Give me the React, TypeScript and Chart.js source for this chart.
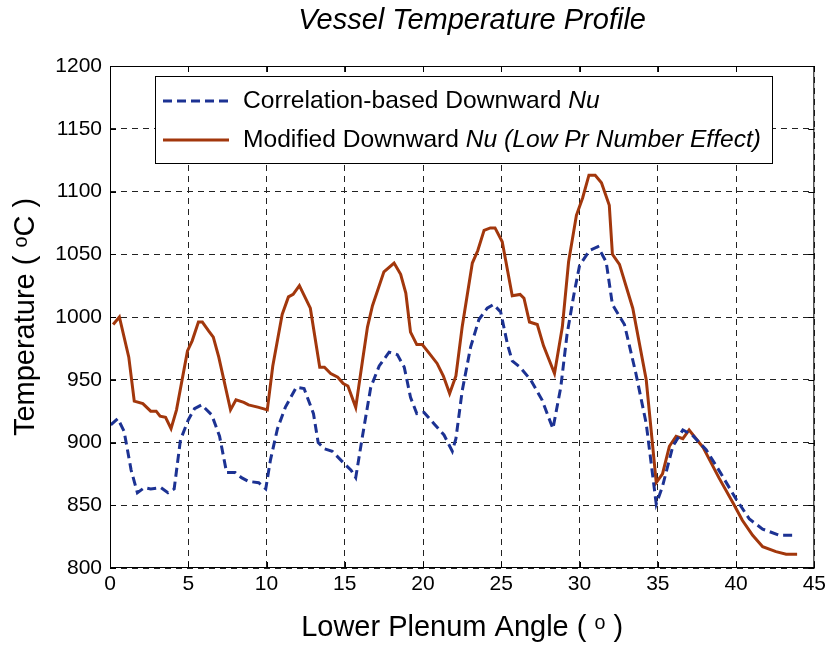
import React, { useEffect, useRef } from "react";
import { Chart, registerables } from "chart.js";

Chart.register(...registerables);

const FONT = "'Liberation Sans', Arial, Helvetica, sans-serif";

const titleText = "Vessel Temperature Profile";
const xTitle = "Lower Plenum Angle ( ᵒ )";
const yTitle = "Temperature ( ᵒC )";

const xTicks = [0, 5, 10, 15, 20, 25, 30, 35, 40, 45];
const yTicks = [800, 850, 900, 950, 1000, 1050, 1100, 1150, 1200];

const corrLabel = "Correlation-based Downward Nu";
const modLabel = "Modified Downward Nu (Low Pr Number Effect)";

const corrX = [0.05, 0.5, 0.9, 1.35, 1.75, 2.2, 2.6, 3.25, 3.7, 4.1, 4.5, 5.0, 5.4, 5.85, 6.5, 7.0, 7.45, 8.0, 8.4, 8.85, 9.5, 9.95, 10.25, 10.7, 11.2, 11.9, 12.4, 13.0, 13.3, 13.7, 14.2, 14.9, 15.4, 15.7, 16.13, 16.66, 17.2, 17.83, 18.36, 18.8, 19.2, 19.6, 20.06, 20.7, 21.34, 21.87, 22.1, 22.5, 23.04, 23.57, 24.1, 24.5, 24.96, 25.4, 25.7, 26.2, 26.87, 27.6, 28.3, 28.8, 29.2, 29.64, 30.0, 30.64, 31.17, 31.7, 32.1, 32.87, 33.6, 34.26, 34.9, 35.3, 35.96, 36.6, 37.2, 38.1, 38.9, 40.0, 40.85, 41.7, 42.77, 43.9];
const corrY = [914, 919, 909, 878, 860, 864, 863, 864, 860, 863, 902, 918, 927, 930, 922, 905, 876, 876, 872, 869, 868, 863, 886, 911, 928, 944, 943, 923, 900, 895, 893, 884, 878, 872, 905, 944, 961, 972, 970, 960, 936, 923, 924, 915, 906, 893, 903, 941, 976, 998, 1007, 1010, 1004, 978, 965, 960, 950, 934, 911, 944, 986, 1018, 1041, 1053, 1056, 1044, 1010, 994, 955, 915, 851, 865, 897, 910, 906, 894, 878, 855, 839, 831, 826, 826];

const modX = [0.2, 0.6, 1.2, 1.55, 2.1, 2.6, 2.95, 3.2, 3.55, 3.9, 4.25, 4.95, 5.25, 5.65, 5.9, 6.3, 6.6, 6.95, 7.7, 8.05, 8.55, 8.85, 9.5, 10.05, 10.4, 11.0, 11.4, 11.7, 12.1, 12.8, 13.4, 13.7, 14.1, 14.55, 14.9, 15.2, 15.7, 16.13, 16.45, 16.77, 17.5, 18.15, 18.57, 18.9, 19.2, 19.6, 19.95, 20.4, 20.9, 21.3, 21.7, 22.1, 22.5, 23.15, 23.5, 23.9, 24.3, 24.6, 25.06, 25.7, 26.2, 26.45, 26.8, 27.3, 27.7, 28.4, 28.9, 29.3, 29.8, 30.2, 30.6, 31.0, 31.4, 31.9, 32.1, 32.55, 33.4, 34.26, 34.9, 35.3, 35.74, 36.17, 36.6, 37.0, 37.9, 38.9, 39.8, 40.4, 41.06, 41.7, 42.55, 43.2, 43.9];
const modY = [994, 1000, 968, 933, 931, 925, 925, 921, 920, 911, 926, 973, 981, 996, 996, 989, 984, 968, 926, 934, 932, 930, 928, 926, 961, 1002, 1016, 1018, 1025, 1007, 960, 960, 955, 952, 947, 945, 928, 965, 992, 1009, 1036, 1043, 1034, 1019, 988, 978, 978, 971, 963, 953, 939, 953, 992, 1043, 1053, 1069, 1071, 1071, 1060, 1017, 1018, 1015, 996, 994, 977, 955, 992, 1044, 1081, 1095, 1113, 1113, 1107, 1089, 1050, 1042, 1007, 950, 868, 875, 897, 905, 903, 910, 896, 872, 852, 838, 826, 817, 813, 811, 811];

const BLUE = "#1c3293";
const ORANGE = "#a2370c";

function toPoints(xs: number[], ys: number[]) {
  return xs.map((x, i) => ({ x, y: ys[i] }));
}

// draws label, italicizing from "Nu" onward
function drawRich(ctx: CanvasRenderingContext2D, text: string, x: number, y: number, size: number) {
  const idx = text.indexOf("Nu");
  const parts = [
    { t: text.slice(0, idx), it: false },
    { t: text.slice(idx), it: true },
  ];
  let cx = x;
  for (const p of parts) {
    ctx.font = `${p.it ? "italic " : ""}${size}px ${FONT}`;
    ctx.fillText(p.t, cx, y);
    cx += ctx.measureText(p.t).width;
  }
}

const decorPlugin = {
  id: "decor",
  afterDraw(chart: any) {
    const { ctx, chartArea } = chart;
    const { left, right, top, bottom } = chartArea;
    const xs = chart.scales.x;
    const ys = chart.scales.y;
    ctx.save();
    ctx.strokeStyle = "#000";
    ctx.lineWidth = 1;
    ctx.setLineDash([]);
    ctx.strokeRect(left + 0.5, top + 0.5, right - left - 1, bottom - top - 1);
    const tl = 6;
    ctx.beginPath();
    for (const v of xTicks) {
      const px = Math.round(xs.getPixelForValue(v)) + 0.5;
      ctx.moveTo(px, bottom);
      ctx.lineTo(px, bottom - tl);
      ctx.moveTo(px, top);
      ctx.lineTo(px, top + tl);
    }
    for (const v of yTicks) {
      const py = Math.round(ys.getPixelForValue(v)) + 0.5;
      ctx.moveTo(left, py);
      ctx.lineTo(left + tl, py);
      ctx.moveTo(right, py);
      ctx.lineTo(right - tl, py);
    }
    ctx.stroke();

    ctx.fillStyle = "#000";
    ctx.font = `italic 29px ${FONT}`;
    ctx.textAlign = "center";
    ctx.textBaseline = "middle";
    ctx.fillText(titleText, (left + right) / 2 + 10, 21);

    const lx = 155, ly = 76, lw = 617, lh = 87;
    ctx.fillStyle = "#fff";
    ctx.fillRect(lx, ly, lw, lh);
    ctx.strokeStyle = "#000";
    ctx.lineWidth = 1;
    ctx.strokeRect(lx + 0.5, ly + 0.5, lw, lh);
    const rows = [
      { label: corrLabel, color: BLUE, dash: [9, 5], y: 101 },
      { label: modLabel, color: ORANGE, dash: [], y: 140 },
    ];
    for (const r of rows) {
      ctx.strokeStyle = r.color;
      ctx.lineWidth = 3;
      ctx.setLineDash(r.dash);
      ctx.beginPath();
      ctx.moveTo(163, r.y);
      ctx.lineTo(229, r.y);
      ctx.stroke();
      ctx.setLineDash([]);
      ctx.fillStyle = "#000";
      ctx.textAlign = "left";
      ctx.textBaseline = "middle";
      drawRich(ctx, r.label, 243, r.y, 24.6);
    }
    ctx.restore();
  },
};

export default function App() {
  const ref = useRef<HTMLCanvasElement | null>(null);
  useEffect(() => {
    if (!ref.current) return;
    const chart = new Chart(ref.current, {
      type: "line",
      data: {
        datasets: [
          {
            label: corrLabel,
            data: toPoints(corrX, corrY),
            borderColor: BLUE,
            borderWidth: 3,
            borderDash: [9, 5],
            pointRadius: 0,
            tension: 0,
            fill: false,
          },
          {
            label: modLabel,
            data: toPoints(modX, modY),
            borderColor: ORANGE,
            borderWidth: 3,
            pointRadius: 0,
            tension: 0,
            fill: false,
          },
        ],
      },
      options: {
        animation: false,
        responsive: false,
        maintainAspectRatio: false,
        layout: { padding: { top: 66, right: 15, left: 0, bottom: 0 } },
        plugins: {
          legend: { display: false },
          title: { display: false },
          tooltip: { enabled: false },
        },
        scales: {
          x: {
            type: "linear",
            min: 0,
            max: 45,
            afterBuildTicks: (s: any) => {
              s.ticks = xTicks.map((v) => ({ value: v }));
            },
            ticks: {
              color: "#000",
              font: { size: 21, family: FONT },
              padding: 4,
              maxRotation: 0,
              autoSkip: false,
              callback: (v: any) => String(v),
            },
            grid: { color: "#222", lineWidth: 1, drawTicks: false },
            border: { display: false, dash: [6, 5] },
            title: {
              display: true,
              text: xTitle,
              color: "#000",
              font: { size: 29, family: FONT },
              padding: { top: 0, bottom: 0 },
            },
            afterFit: (s: any) => {
              s.height = 77;
            },
          },
          y: {
            type: "linear",
            min: 800,
            max: 1200,
            afterBuildTicks: (s: any) => {
              s.ticks = yTicks.map((v) => ({ value: v }));
            },
            ticks: {
              color: "#000",
              font: { size: 21, family: FONT },
              padding: 8,
              autoSkip: false,
              callback: (v: any) => String(v),
            },
            grid: { color: "#222", lineWidth: 1, drawTicks: false },
            border: { display: false, dash: [6, 5] },
            title: {
              display: true,
              text: yTitle,
              color: "#000",
              font: { size: 29, family: FONT },
              padding: { top: 9, bottom: 0 },
            },
            afterFit: (s: any) => {
              s.width = 110;
            },
          },
        },
      },
      plugins: [decorPlugin],
    });
    return () => chart.destroy();
  }, []);
  return (
    <div style={{ position: "absolute", left: 0, top: 0, width: 830, height: 645, background: "#fff" }}>
      <canvas ref={ref} width={830} height={645} />
    </div>
  );
}
